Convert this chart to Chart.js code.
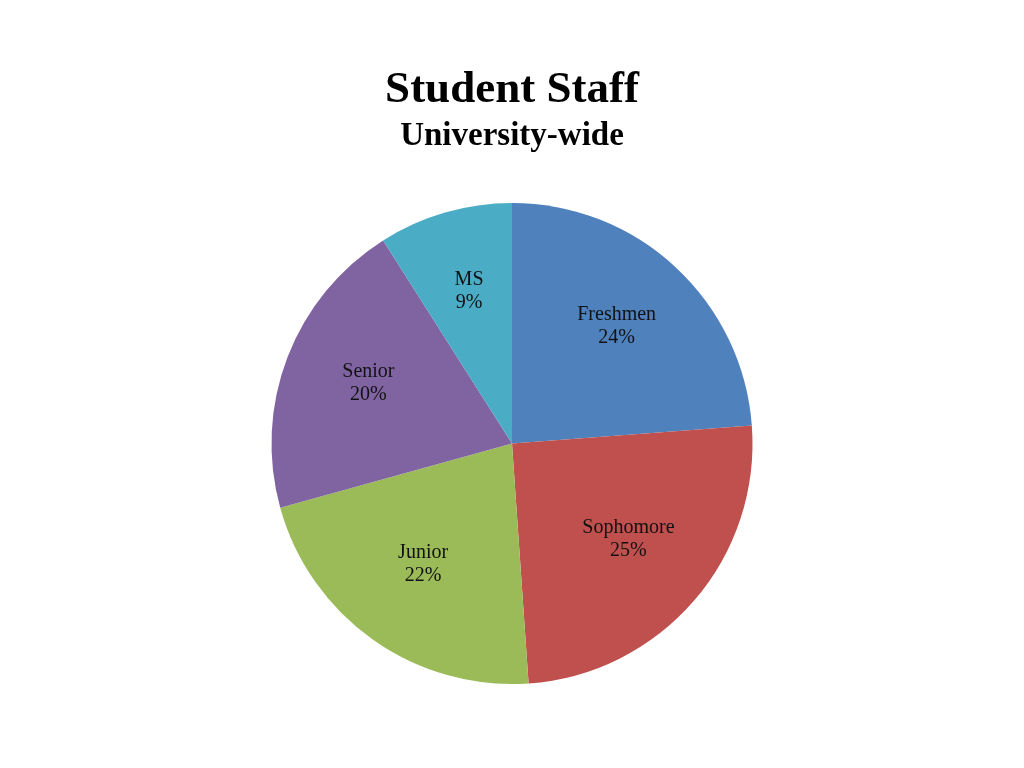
<!DOCTYPE html>
<html>
<head>
<meta charset="utf-8">
<script src="https://cdn.jsdelivr.net/npm/chart.js@4/dist/chart.umd.min.js"></script>
<style>
  html, body { margin: 0; padding: 0; background: #fff; }
  #wrap { width: 1024px; height: 768px; }
</style>
</head>
<body>
<div id="wrap"><canvas id="chartStaff"></canvas></div>
<script>
// student staff by class, share of total (%)
const categories = ['Freshmen', 'Sophomore', 'Junior', 'Senior', 'MS'];
const shares = [23.8, 25.1, 21.8, 20.3, 9.0];
const colors = ['#4F81BD', '#C0504D', '#9BBB59', '#8064A2', '#4BACC6'];

// draws "name / xx%" inside each slice
const sliceLabels = {
  id: 'sliceLabels',
  afterDatasetsDraw(chart) {
    const ctx = chart.ctx;
    const meta = chart.getDatasetMeta(0);
    const total = shares.reduce((a, b) => a + b, 0);
    ctx.save();
    ctx.font = '20px "Liberation Serif", serif';
    ctx.fillStyle = '#111';
    ctx.textAlign = 'center';
    ctx.textBaseline = 'middle';
    meta.data.forEach((arc, i) => {
      const p = arc.getProps(['x', 'y', 'startAngle', 'endAngle', 'outerRadius'], true);
      const mid = (p.startAngle + p.endAngle) / 2;
      const r = p.outerRadius * 0.64;
      const x = p.x + Math.cos(mid) * r;
      const y = p.y + Math.sin(mid) * r - 5;
      const pct = Math.round(shares[i] / total * 100) + '%';
      ctx.fillText(categories[i], x, y - 11);
      ctx.fillText(pct, x, y + 12);
    });
    ctx.restore();
  }
};

const ctx = document.getElementById('chartStaff').getContext('2d');
const myChart = new Chart(ctx, {
  type: 'pie',
  data: {
    labels: categories,
    datasets: [{
      data: shares,
      backgroundColor: colors,
      borderWidth: 0
    }]
  },
  options: {
    responsive: true,
    maintainAspectRatio: false,
    animation: false,
    layout: { padding: { bottom: 84 } },
    plugins: {
      legend: { display: false },
      tooltip: { enabled: false },
      title: {
        display: true,
        text: 'Student Staff',
        color: '#000',
        font: { family: '"Liberation Serif", serif', size: 45, weight: 'bold', lineHeight: 1.0 },
        padding: { top: 68, bottom: 7 }
      },
      subtitle: {
        display: true,
        text: 'University-wide',
        color: '#000',
        font: { family: '"Liberation Serif", serif', size: 33, weight: 'bold', lineHeight: 1.0 },
        padding: { top: 0, bottom: 50 }
      }
    }
  },
  plugins: [sliceLabels]
});
</script>
</body>
</html>
